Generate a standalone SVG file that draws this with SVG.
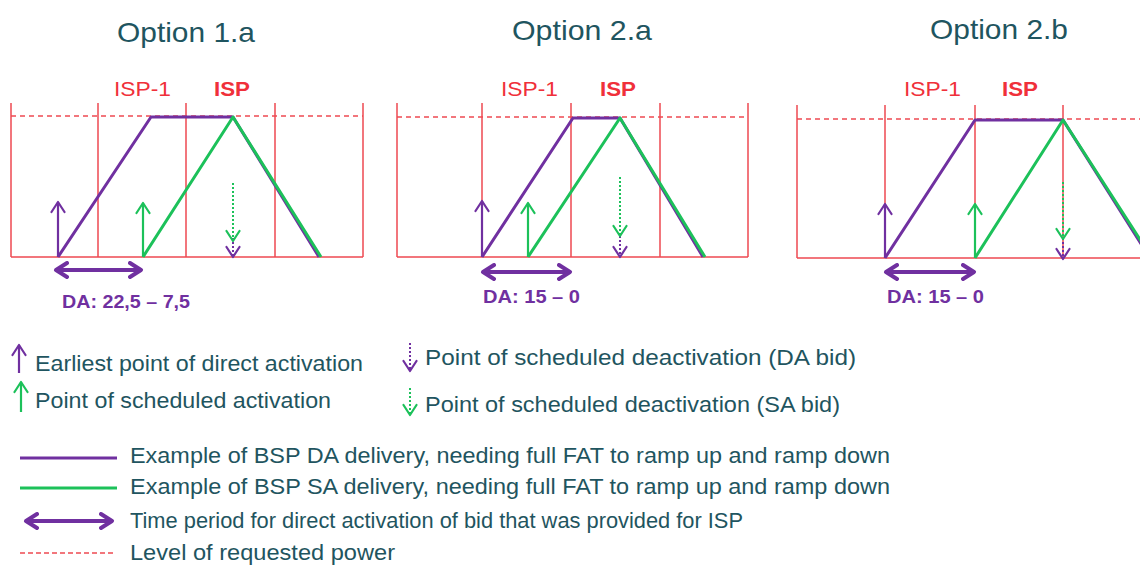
<svg xmlns="http://www.w3.org/2000/svg" width="1140" height="565" viewBox="0 0 1140 565">
  <style>
    .title { font-family: "Liberation Sans", Arial, sans-serif; font-size: 28px; fill: #1f5560; }
    .isp1 { font-family: "Liberation Sans", Arial, sans-serif; font-size: 21px; fill: #f0303a; }
    .isp { font-family: "Liberation Sans", Arial, sans-serif; font-size: 21px; font-weight: bold; fill: #f0303a; }
    .da { font-family: "Liberation Sans", Arial, sans-serif; font-size: 18px; font-weight: bold; fill: #7030a0; }
    .leg { font-family: "Liberation Sans", Arial, sans-serif; font-size: 22px; fill: #1f5560; }
    .grid { stroke: #ee4a52; stroke-width: 1.5; fill: none; }
    .level { stroke: #ee4a52; stroke-width: 1.5; stroke-dasharray: 5 4; fill: none; }
    .da-line { stroke: #7030a0; stroke-width: 3; fill: none; stroke-linejoin: round; }
    .sa-line { stroke: #1cc15a; stroke-width: 3; fill: none; stroke-linejoin: round; }
    .up-da { stroke: #7030a0; stroke-width: 2.2; marker-end: url(#headDA); }
    .up-sa { stroke: #1cc15a; stroke-width: 2.2; marker-end: url(#headSA); }
    .dn-da { stroke: #7030a0; stroke-width: 2; stroke-dasharray: 2 2; marker-end: url(#headDA); }
    .dn-sa { stroke: #1cc15a; stroke-width: 2; stroke-dasharray: 2 2; marker-end: url(#headSA); }
    .span { stroke: #7030a0; stroke-width: 4; marker-start: url(#spanHead); marker-end: url(#spanHead); }
  </style>
  <defs>
    <!-- open chevron heads, sized in user units -->
    <marker id="headDA" viewBox="0 0 14 16" refX="12" refY="8" markerWidth="14" markerHeight="16" orient="auto" markerUnits="userSpaceOnUse">
      <path d="M2,1.5 L12,8 L2,14.5" fill="none" stroke="#7030a0" stroke-width="2.2" stroke-linecap="round" stroke-linejoin="round"/>
    </marker>
    <marker id="headSA" viewBox="0 0 14 16" refX="12" refY="8" markerWidth="14" markerHeight="16" orient="auto" markerUnits="userSpaceOnUse">
      <path d="M2,1.5 L12,8 L2,14.5" fill="none" stroke="#1cc15a" stroke-width="2.2" stroke-linecap="round" stroke-linejoin="round"/>
    </marker>
    <marker id="spanHead" viewBox="0 0 16 18" refX="13" refY="9" markerWidth="16" markerHeight="18" orient="auto-start-reverse" markerUnits="userSpaceOnUse">
      <path d="M2,2 L13,9 L2,16" fill="none" stroke="#7030a0" stroke-width="4" stroke-linecap="round" stroke-linejoin="round"/>
    </marker>
  </defs>

  <!-- Option 1.a -->
  <g id="option-1a">
    <text class="title" x="117" y="42" textLength="138" lengthAdjust="spacingAndGlyphs">Option 1.a</text>
    <text class="isp1" x="114" y="96" textLength="57" lengthAdjust="spacingAndGlyphs">ISP-1</text>
    <text class="isp" x="214" y="96" textLength="36" lengthAdjust="spacingAndGlyphs">ISP</text>
    <path class="grid" d="M11,103 V257 M98,103 V257 M186,103 V257 M275,103 V257 M363,103 V257 M11,257 H363"/>
    <line class="level" x1="11" y1="116" x2="363" y2="116"/>
    <polyline class="da-line" points="58,257 151,117 233,117 319,257"/>
    <polyline class="sa-line" points="143,257 233,117 321,257"/>
    <line class="up-da" x1="58" y1="257" x2="58" y2="202"/>
    <line class="up-sa" x1="143" y1="257" x2="143" y2="203"/>
    <line class="dn-da" x1="233" y1="238" x2="233" y2="257"/>
    <line class="dn-sa" x1="233" y1="183" x2="233" y2="241"/>
    <line class="span" x1="56" y1="270" x2="141" y2="270"/>
    <text class="da" x="62" y="308" textLength="128" lengthAdjust="spacingAndGlyphs">DA: 22,5 – 7,5</text>
  </g>

  <!-- Option 2.a -->
  <g id="option-2a">
    <text class="title" x="512" y="40" textLength="140" lengthAdjust="spacingAndGlyphs">Option 2.a</text>
    <text class="isp1" x="501" y="96" textLength="57" lengthAdjust="spacingAndGlyphs">ISP-1</text>
    <text class="isp" x="600" y="96" textLength="36" lengthAdjust="spacingAndGlyphs">ISP</text>
    <path class="grid" d="M397,103 V257 M482,103 V257 M571,103 V257 M660,103 V257 M748,103 V257 M397,257 H748"/>
    <line class="level" x1="397" y1="117" x2="748" y2="117"/>
    <polyline class="da-line" points="482,257 573,118 620,118 703,257"/>
    <polyline class="sa-line" points="528,257 620,118 705,257"/>
    <line class="up-da" x1="482" y1="257" x2="482" y2="201"/>
    <line class="up-sa" x1="528" y1="257" x2="528" y2="203"/>
    <line class="dn-da" x1="620" y1="236" x2="620" y2="257"/>
    <line class="dn-sa" x1="620" y1="177" x2="620" y2="236"/>
    <line class="span" x1="483" y1="272" x2="570" y2="272"/>
    <text class="da" x="483" y="303" textLength="97" lengthAdjust="spacingAndGlyphs">DA: 15 – 0</text>
  </g>

  <!-- Option 2.b -->
  <g id="option-2b">
    <text class="title" x="930" y="39" textLength="138" lengthAdjust="spacingAndGlyphs">Option 2.b</text>
    <text class="isp1" x="904" y="96" textLength="57" lengthAdjust="spacingAndGlyphs">ISP-1</text>
    <text class="isp" x="1002" y="96" textLength="36" lengthAdjust="spacingAndGlyphs">ISP</text>
    <path class="grid" d="M797,105 V258 M885,105 V258 M975,105 V258 M1063,105 V258 M797,258 H1140"/>
    <line class="level" x1="797" y1="119" x2="1140" y2="119"/>
    <polyline class="da-line" points="885,258 975,120 1063,120 1150,258"/>
    <polyline class="sa-line" points="975,258 1063,120 1152,258"/>
    <line class="up-da" x1="885" y1="258" x2="885" y2="204"/>
    <line class="up-sa" x1="975" y1="258" x2="975" y2="204"/>
    <line class="dn-da" x1="1063" y1="238" x2="1063" y2="259"/>
    <line class="dn-sa" x1="1063" y1="182" x2="1063" y2="239"/>
    <line class="span" x1="886" y1="272" x2="974" y2="272"/>
    <text class="da" x="887" y="303" textLength="97" lengthAdjust="spacingAndGlyphs">DA: 15 – 0</text>
  </g>

  <!-- Legend: arrows -->
  <g id="legend-arrows">
    <line class="up-da" x1="19" y1="373" x2="19" y2="345"/>
    <text class="leg" x="35" y="371" textLength="328" lengthAdjust="spacingAndGlyphs">Earliest point of direct activation</text>
    <line class="up-sa" x1="21" y1="412" x2="21" y2="382"/>
    <text class="leg" x="35" y="408" textLength="296" lengthAdjust="spacingAndGlyphs">Point of scheduled activation</text>
    <line class="dn-da" x1="410" y1="343" x2="410" y2="371"/>
    <text class="leg" x="425" y="365" textLength="431" lengthAdjust="spacingAndGlyphs">Point of scheduled deactivation (DA bid)</text>
    <line class="dn-sa" x1="410" y1="388" x2="410" y2="415"/>
    <text class="leg" x="425" y="412" textLength="415" lengthAdjust="spacingAndGlyphs">Point of scheduled deactivation (SA bid)</text>
  </g>

  <!-- Legend: line styles -->
  <g id="legend-lines">
    <line class="da-line" x1="20" y1="458" x2="117" y2="458"/>
    <text class="leg" x="130" y="463" textLength="760" lengthAdjust="spacingAndGlyphs">Example of BSP DA delivery, needing full FAT to ramp up and ramp down</text>
    <line class="sa-line" x1="20" y1="488" x2="117" y2="488"/>
    <text class="leg" x="130" y="494" textLength="760" lengthAdjust="spacingAndGlyphs">Example of BSP SA delivery, needing full FAT to ramp up and ramp down</text>
    <line class="span" x1="26" y1="521" x2="112" y2="521"/>
    <text class="leg" x="130" y="528" textLength="613" lengthAdjust="spacingAndGlyphs">Time period for direct activation of bid that was provided for ISP</text>
    <line class="level" x1="20" y1="553" x2="116" y2="553" style="stroke-dasharray:5 3"/>
    <text class="leg" x="130" y="560" textLength="265" lengthAdjust="spacingAndGlyphs">Level of requested power</text>
  </g>
</svg>
